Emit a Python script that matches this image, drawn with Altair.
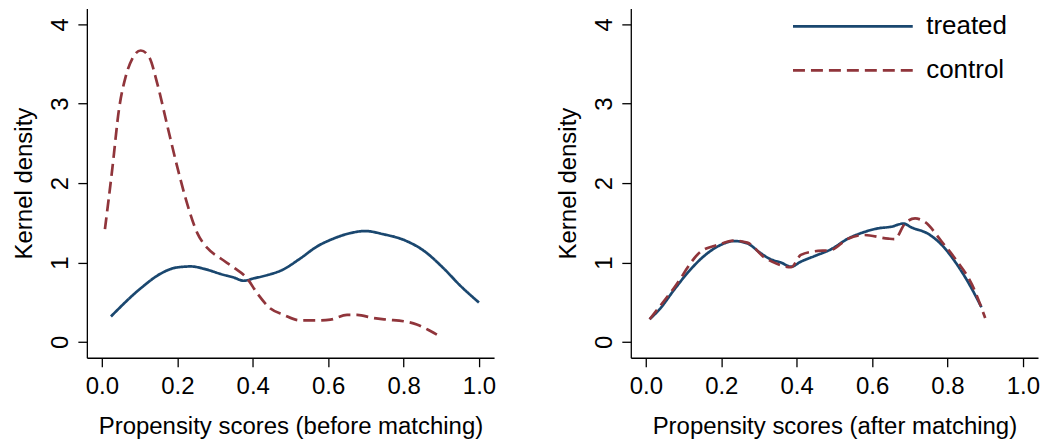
import altair as alt
import pandas as pd

GROUPS = ["treated", "control"]
COLORS = ["#1a476f", "#90353b"]

# Before matching
before_treated_x = [0.024, 0.103, 0.156, 0.196, 0.236, 0.271, 0.315, 0.35, 0.376, 0.403, 0.438, 0.478,
                    0.526, 0.57, 0.614, 0.659, 0.698, 0.747, 0.8, 0.853, 0.906, 0.95, 1.0]
before_treated_y = [0.32, 0.675, 0.86, 0.935, 0.95, 0.92, 0.855, 0.81, 0.77, 0.80, 0.84, 0.905,
                    1.05, 1.2, 1.30, 1.37, 1.396, 1.355, 1.285, 1.15, 0.927, 0.71, 0.495]
before_control_x = [0.008, 0.028, 0.045, 0.063, 0.081, 0.103, 0.125, 0.147, 0.174, 0.2, 0.226, 0.253,
                    0.28, 0.315, 0.35, 0.385, 0.412, 0.447, 0.482, 0.526, 0.57, 0.606, 0.65, 0.677,
                    0.72, 0.756, 0.8, 0.835, 0.87, 0.9]
before_control_y = [1.42, 2.2, 2.92, 3.34, 3.57, 3.67, 3.59, 3.25, 2.71, 2.2, 1.74, 1.37,
                    1.18, 1.05, 0.935, 0.80, 0.61, 0.42, 0.34, 0.27, 0.27, 0.28, 0.34, 0.34,
                    0.30, 0.28, 0.26, 0.22, 0.14, 0.06]

# After matching
after_treated_x = [0.01, 0.038, 0.074, 0.109, 0.154, 0.198, 0.234, 0.269, 0.305, 0.331, 0.358, 0.385,
                   0.411, 0.447, 0.491, 0.536, 0.571, 0.616, 0.651, 0.683, 0.705, 0.749, 0.785, 0.82,
                   0.856, 0.89]
after_treated_y = [0.285, 0.42, 0.65, 0.86, 1.08, 1.22, 1.27, 1.24, 1.115, 1.04, 1.0, 0.947,
                   1.01, 1.08, 1.166, 1.30, 1.37, 1.43, 1.45, 1.49, 1.44, 1.36, 1.22, 1.01,
                   0.74, 0.436]
after_control_x = [0.01, 0.074, 0.145, 0.19, 0.234, 0.269, 0.314, 0.349, 0.385, 0.411, 0.447, 0.491,
                   0.536, 0.58, 0.643, 0.66, 0.687, 0.714, 0.74, 0.785, 0.82, 0.865, 0.9]
after_control_y = [0.285, 0.675, 1.135, 1.22, 1.275, 1.25, 1.065, 0.98, 0.94, 1.095, 1.14, 1.157,
                   1.30, 1.346, 1.30, 1.295, 1.49, 1.555, 1.51, 1.26, 1.05, 0.72, 0.30]

X_TICKS = [0.0, 0.2, 0.4, 0.6, 0.8, 1.0]
Y_TICKS = [0, 1, 2, 3, 4]


def frame(tx, ty, cx, cy):
    a = pd.DataFrame({"x": tx, "y": ty, "group": "treated"})
    b = pd.DataFrame({"x": cx, "y": cy, "group": "control"})
    return pd.concat([a, b], ignore_index=True)


FONT = "Liberation Sans"


def panel(df, xtitle, legend):
    color_legend = None
    dash_legend = None
    if legend:
        lg = alt.Legend(
            orient="none", legendX=161, legendY=6, title=None,
            symbolType="stroke", symbolSize=14400, symbolStrokeWidth=2.7,
            labelFont=FONT, labelFontSize=26, labelColor="black", labelOffset=12,
            clipHeight=24, rowPadding=18, padding=0,
        )
        color_legend = lg
        dash_legend = lg
    return alt.Chart(df).mark_line(strokeWidth=2.7, interpolate="monotone").encode(
        x=alt.X("x:Q", scale=alt.Scale(domain=[-0.04, 1.04], nice=False, zero=False),
                axis=alt.Axis(values=X_TICKS, format=".1f", title=xtitle)),
        y=alt.Y("y:Q", scale=alt.Scale(domain=[-0.2, 4.2], nice=False, zero=False),
                axis=alt.Axis(values=Y_TICKS, format="d", title="Kernel density",
                              labelAngle=270, labelAlign="center", labelBaseline="bottom",
                              labelPadding=5, titlePadding=12)),
        color=alt.Color("group:N", scale=alt.Scale(domain=GROUPS, range=COLORS), legend=color_legend),
        strokeDash=alt.StrokeDash("group:N", scale=alt.Scale(domain=GROUPS, range=[[1, 0], [12, 6]]),
                                  legend=dash_legend),
    ).properties(width=408, height=350)


left = panel(frame(before_treated_x, before_treated_y, before_control_x, before_control_y),
             "Propensity scores (before matching)", False)
right = panel(frame(after_treated_x, after_treated_y, after_control_x, after_control_y),
              "Propensity scores (after matching)", True)

chart = alt.hconcat(left, right, spacing=61).resolve_legend(
    color="independent", strokeDash="independent"
).properties(
    padding={"left": 5, "top": 0, "right": 0, "bottom": 0},
    background="white",
).configure_view(stroke=None).configure_axis(
    grid=False, domainColor="black", domainWidth=1.3, tickColor="black", tickWidth=1.3, tickSize=9,
    labelFont=FONT, labelFontSize=24, labelColor="black", labelPadding=8,
    titleFont=FONT, titleFontSize=24, titleFontWeight="normal", titleColor="black", titlePadding=16,
)

chart.save("out.html", embed_options={"renderer": "svg", "actions": False})
